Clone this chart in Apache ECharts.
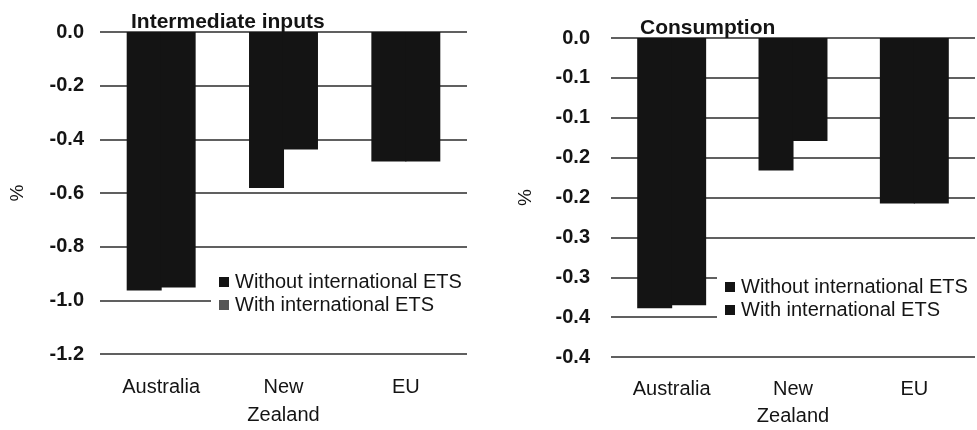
<!DOCTYPE html>
<html>
<head>
<meta charset="utf-8">
<script src="https://cdn.jsdelivr.net/npm/echarts@6/dist/echarts.min.js"></script>
<style>
  html, body { margin: 0; padding: 0; background: #ffffff; }
  #chart { width: 977px; height: 430px; }
</style>
</head>
<body>
<div id="chart"></div>
<script>
// Regions shown on the category axis
const categories = ['Australia', 'New\nZealand', 'EU'];
const seriesNames = ['Without international ETS', 'With international ETS'];

// Percentage change, intermediate inputs
const inputsWithout = [-0.963, -0.581, -0.483];
const inputsWith = [-0.952, -0.438, -0.483];

// Percentage change, consumption
const consumptionWithout = [-0.339, -0.166, -0.2075];
const consumptionWith = [-0.335, -0.129, -0.2075];

// Value-axis tick labels, from 0 downwards
const inputsTicks = ['0.0', '-0.2', '-0.4', '-0.6', '-0.8', '-1.0', '-1.2'];
const consumptionTicks = ['0.0', '-0.1', '-0.1', '-0.2', '-0.2', '-0.3', '-0.3', '-0.4', '-0.4'];

const FONT = '"Liberation Sans", Arial, sans-serif';
const INK = '#141414';
const GRID_LINE = '#2b2b2b';

function valueAxis(gridIndex, min, step, ticks, labelMargin, nameGap) {
  return {
    type: 'value',
    gridIndex: gridIndex,
    min: min,
    max: 0,
    interval: step,
    name: '%',
    nameLocation: 'middle',
    nameRotate: 90,
    nameGap: nameGap,
    nameTextStyle: { fontFamily: FONT, fontSize: 19, color: INK },
    axisLine: { show: false },
    axisTick: { show: false },
    axisLabel: {
      margin: labelMargin,
      fontFamily: FONT,
      fontSize: 20,
      fontWeight: 'bold',
      color: INK,
      formatter: function (v) {
        return ticks[Math.round(-v / step)];
      }
    },
    splitLine: { show: true, lineStyle: { color: GRID_LINE, width: 1.5 } }
  };
}

function categoryAxis(gridIndex, lineHeight) {
  return {
    type: 'category',
    gridIndex: gridIndex,
    data: categories,
    position: 'bottom',
    axisLine: { show: false, onZero: false },
    axisTick: { show: false },
    axisLabel: {
      margin: 19,
      interval: 0,
      fontFamily: FONT,
      fontSize: 20,
      lineHeight: lineHeight,
      color: INK
    }
  };
}

// Paired bars touch each other; a hair of overlap keeps them as one solid block
function bars(name, data, idx) {
  return {
    name: name,
    type: 'bar',
    xAxisIndex: idx,
    yAxisIndex: idx,
    data: data,
    barWidth: 35,
    barGap: '-3%',
    itemStyle: { color: INK },
    emphasis: { disabled: true }
  };
}

function legend(left, top, padRight, withColor) {
  return {
    orient: 'vertical',
    left: left,
    top: top,
    padding: [5, padRight, 5, 8],
    backgroundColor: '#ffffff',
    itemWidth: 10,
    itemHeight: 10,
    itemGap: 3,
    icon: 'rect',
    selectedMode: false,
    textStyle: { fontFamily: FONT, fontSize: 20, color: INK, padding: [0, 0, 0, 1] },
    data: [
      { name: seriesNames[0], itemStyle: { color: INK } },
      { name: seriesNames[1], itemStyle: { color: withColor } }
    ]
  };
}

const chart = echarts.init(document.getElementById('chart'), null, { renderer: 'canvas' });

chart.setOption({
  animation: false,
  backgroundColor: '#ffffff',
  title: [
    {
      text: 'Intermediate inputs',
      left: 131,
      top: 12,
      padding: 0,
      textStyle: { fontFamily: FONT, fontSize: 21, fontWeight: 'bold', color: INK }
    },
    {
      text: 'Consumption',
      left: 640,
      top: 18,
      padding: 0,
      textStyle: { fontFamily: FONT, fontSize: 21, fontWeight: 'bold', color: INK }
    }
  ],
  legend: [
    legend(211, 267, 10, '#555555'),
    legend(717, 272, 14, INK)
  ],
  grid: [
    { left: 100, right: 510, top: 32, bottom: 76 },
    { left: 611, right: 2, top: 38, bottom: 71 }
  ],
  xAxis: [categoryAxis(0, 28), categoryAxis(1, 27)],
  yAxis: [
    valueAxis(0, -1.2, 0.2, inputsTicks, 16, 73),
    valueAxis(1, -0.4, 0.05, consumptionTicks, 21, 76)
  ],
  series: [
    bars(seriesNames[0], inputsWithout, 0),
    bars(seriesNames[1], inputsWith, 0),
    bars(seriesNames[0], consumptionWithout, 1),
    bars(seriesNames[1], consumptionWith, 1)
  ]
});
</script>
</body>
</html>
